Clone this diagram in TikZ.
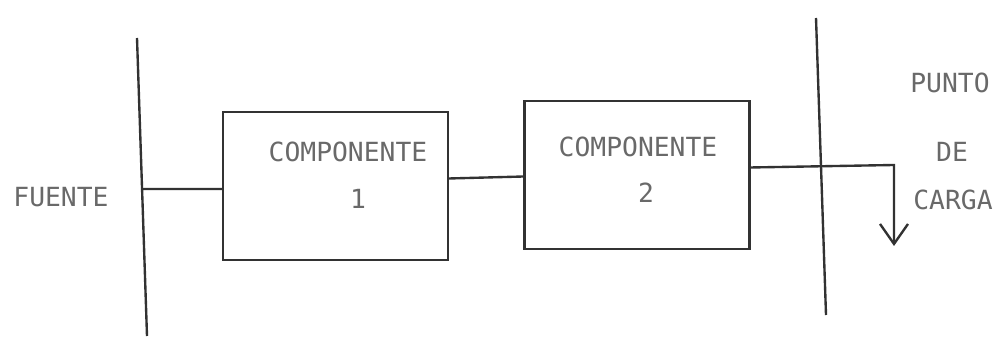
\documentclass[tikz,border=0pt]{standalone}
\usepackage{fontspec}
\setmonofont{DejaVu Sans Mono}
\usetikzlibrary{arrows.meta,calc}
\definecolor{inkline}{RGB}{50,50,50}
\definecolor{inktext}{RGB}{105,105,105}
\begin{document}
\begin{tikzpicture}[x=0.02cm,y=-0.02cm,
  wire/.style={draw=inkline,line width=1.35pt},
  compbox/.style={draw=inkline,line width=1.35pt,minimum width=4.5cm,minimum height=2.96cm,inner sep=0pt},
  lbl/.style={text=inktext,font=\ttfamily\fontsize{15}{18}\selectfont,inner sep=0pt}]
\useasboundingbox (0,0) rectangle (996,337);
% buses
\coordinate (b1top) at (137,38);
\coordinate (b1bot) at (147,336);
\coordinate (b1tap) at (142,189);
\coordinate (b2top) at (816,18);
\coordinate (b2bot) at (826,315);
\draw[wire] (b1top) -- (b1bot);
\draw[wire] (b2top) -- (b2bot);
% boxes
\node[compbox] (box1) at (335.5,186) {};
\node[compbox] (box2) at (637,175) {};
% labels
\node[lbl] (fuente) at (61,197) {FUENTE};
\node[lbl] (c1a) at (348,152) {COMPONENTE};
\node[lbl] (c1b) at (358,199) {1};
\node[lbl] (c2a) at (638,147) {COMPONENTE};
\node[lbl] (c2b) at (646,193) {2};
\node[lbl] (punto) at (950,83) {PUNTO};
\node[lbl] (de) at (952,152) {DE};
\node[lbl] (carga) at (953,200) {CARGA};
% connectors
\coordinate (bend) at (894,165);
\coordinate (tip) at (894,246);
\draw[wire] (b1tap) -- ($(box1.north west)!0.52!(box1.south west)$);
\draw[wire] ($(box1.north east)!0.45!(box1.south east)$) -- ($(box2.north west)!0.51!(box2.south west)$);
\draw[wire,-{Straight Barb[length=0.4cm,width=0.56cm,line width=1.35pt]}]
  ($(box2.north east)!0.45!(box2.south east)$) -- (bend) -- (tip);
\end{tikzpicture}
\end{document}
